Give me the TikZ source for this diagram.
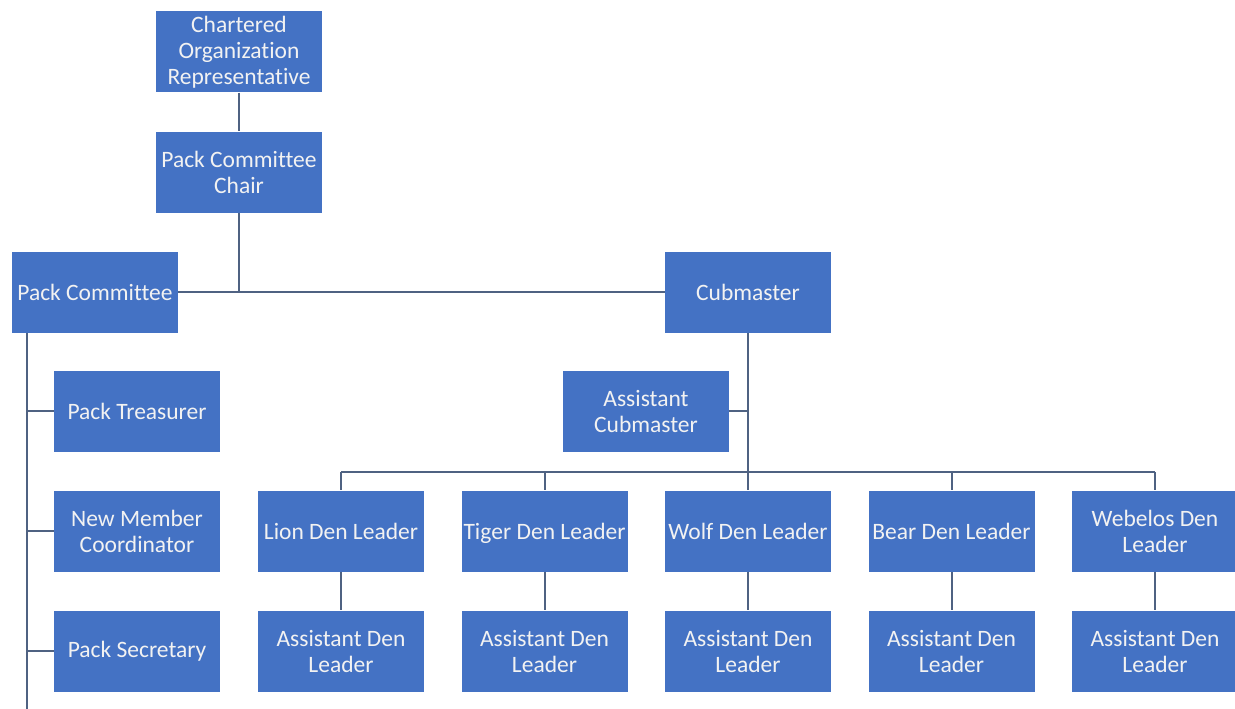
\documentclass[tikz,border=0pt]{standalone}
\usepackage{fontspec}
\setmainfont{Carlito}[Ligatures=NoCommon]
\definecolor{boxblue}{HTML}{4472C4}
\definecolor{boxtext}{HTML}{F2F2F2}
\definecolor{linecol}{HTML}{4F6282}
\begin{document}
\begin{tikzpicture}[x=1pt,y=-1pt,
  box/.style={rectangle, fill=boxblue, text=boxtext, minimum width=166pt, minimum height=81pt, inner sep=0pt, align=center, font=\fontsize{23.5}{26}\selectfont},
  conn/.style={draw=linecol, line width=2pt}]
\clip (0,0) rectangle (1235,709);
\fill[white] (0,0) rectangle (1235,709);
\node[box] (cor) at (239,52) {Chartered\\Organization\\Representative};
\node[box] (chair) at (239,172) {Pack Committee\\Chair};
\node[box] (pc) at (95,292) {Pack Committee};
\node[box] (cub) at (748,292) {Cubmaster};
\node[box] (treas) at (137,411) {Pack Treasurer};
\node[box] (nmc) at (137,531) {New Member\\Coordinator};
\node[box] (sec) at (137,651) {Pack Secretary};
\node[box] (acub) at (646,411) {Assistant\\Cubmaster};
\node[box] (lion) at (341,531) {Lion Den Leader};
\node[box] (tiger) at (544.5,531) {Ti\smash{g}er Den Leader};
\node[box] (wolf) at (748,531) {Wolf Den Leader};
\node[box] (bear) at (951.5,531) {Bear Den Leader};
\node[box] (web) at (1155,531) {Webelos Den\\Leader};
\node[box] (alion) at (341,651) {Assistant Den\\Leader};
\node[box] (atiger) at (544.5,651) {Assistant Den\\Leader};
\node[box] (awolf) at (748,651) {Assistant Den\\Leader};
\node[box] (abear) at (951.5,651) {Assistant Den\\Leader};
\node[box] (aweb) at (1155,651) {Assistant Den\\Leader};
\coordinate (spinebot) at (27,712);
\coordinate (denbar) at (748,472);
% connectors
\draw[conn] (cor.south) -- (chair.north);
\draw[conn] (chair.south) -- (chair.south |- pc.east);
\draw[conn] (pc.east) -- (cub.west);
\draw[conn] (pc.south -| spinebot) -- (spinebot);
\draw[conn] (treas.west -| spinebot) -- (treas.west);
\draw[conn] (nmc.west -| spinebot) -- (nmc.west);
\draw[conn] (sec.west -| spinebot) -- (sec.west);
\draw[conn] (cub.south) -- (wolf.north);
\draw[conn] (acub.east) -- (acub.east -| cub.south);
\draw[conn] (lion.north |- denbar) -- (web.north |- denbar);
\draw[conn] (lion.north |- denbar) -- (lion.north);
\draw[conn] (tiger.north |- denbar) -- (tiger.north);
\draw[conn] (bear.north |- denbar) -- (bear.north);
\draw[conn] (web.north |- denbar) -- (web.north);
\draw[conn] (lion.south) -- (alion.north);
\draw[conn] (tiger.south) -- (atiger.north);
\draw[conn] (wolf.south) -- (awolf.north);
\draw[conn] (bear.south) -- (abear.north);
\draw[conn] (web.south) -- (aweb.north);
\end{tikzpicture}
\end{document}
